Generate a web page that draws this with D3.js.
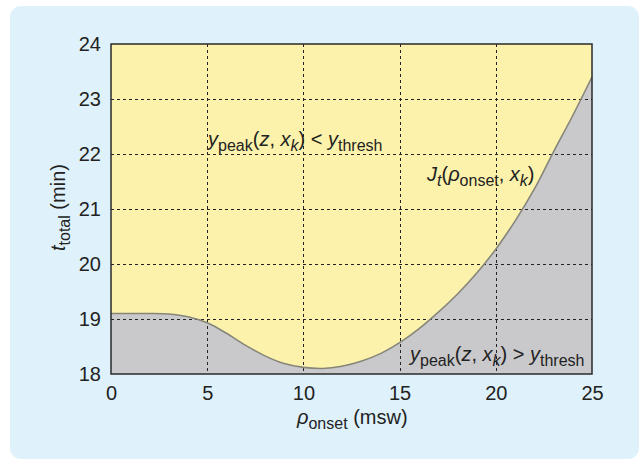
<!DOCTYPE html>
<html>
<head>
<meta charset="utf-8">
<script src="https://cdn.jsdelivr.net/npm/d3@7"></script>
<style>
  body { margin: 0; background: #fff; }
  svg text { font-family: "Liberation Sans", Arial, sans-serif; fill: #222; }
</style>
</head>
<body>
<script>
// onset depth (msw) and boundary total time (min)
var onset = [0, 1, 2, 3, 4, 5, 6, 7, 8, 9, 10, 11, 12, 13, 14, 15, 16, 17, 18, 19, 20, 21, 22, 23, 24, 25];
var ttotal = [19.10, 19.10, 19.10, 19.09, 19.04, 18.93, 18.74, 18.52, 18.33, 18.19, 18.12, 18.10, 18.14, 18.23, 18.37, 18.57, 18.82, 19.12, 19.45, 19.83, 20.27, 20.78, 21.36, 22.04, 22.70, 23.40];
var xTicks = [0, 5, 10, 15, 20, 25];
var yTicks = [18, 19, 20, 21, 22, 23, 24];

var W = 642, H = 461;
var pLeft = 111, pRight = 592, pTop = 44, pBottom = 374;

var svg = d3.select("body").append("svg")
  .attr("width", W)
  .attr("height", H);

// light blue panel
svg.append("rect")
  .attr("x", 10).attr("y", 6)
  .attr("width", 629).attr("height", 453)
  .attr("rx", 11)
  .attr("fill", "#dff2fb");

var x = d3.scaleLinear().domain([0, 25]).range([pLeft, pRight]);
var y = d3.scaleLinear().domain([18, 24]).range([pBottom, pTop]);

var data = onset.map(function(d, i) { return [d, ttotal[i]]; });

// yellow (feasible) region
svg.append("rect")
  .attr("x", pLeft).attr("y", pTop)
  .attr("width", pRight - pLeft).attr("height", pBottom - pTop)
  .attr("fill", "#fcf2ab");

// gray region under the boundary
var area = d3.area()
  .x(function(d) { return x(d[0]); })
  .y0(pBottom)
  .y1(function(d) { return y(d[1]); })
  .curve(d3.curveCatmullRom.alpha(0.5));

svg.append("path")
  .datum(data)
  .attr("d", area)
  .attr("fill", "#c9c9cb");

// grid
var grid = svg.append("g").attr("stroke", "#222").attr("stroke-width", 1).attr("stroke-dasharray", "3,3");
grid.selectAll(".gx").data(xTicks.slice(1, -1)).enter().append("line")
  .attr("x1", function(d) { return Math.round(x(d)) + 0.5; })
  .attr("x2", function(d) { return Math.round(x(d)) + 0.5; })
  .attr("y1", pTop).attr("y2", pBottom);
grid.selectAll(".gy").data(yTicks.slice(1, -1)).enter().append("line")
  .attr("y1", function(d) { return Math.round(y(d)) + 0.5; })
  .attr("y2", function(d) { return Math.round(y(d)) + 0.5; })
  .attr("x1", pLeft).attr("x2", pRight);

// boundary line
var line = d3.line()
  .x(function(d) { return x(d[0]); })
  .y(function(d) { return y(d[1]); })
  .curve(d3.curveCatmullRom.alpha(0.5));

svg.append("path")
  .datum(data)
  .attr("d", line)
  .attr("fill", "none")
  .attr("stroke", "#86867a")
  .attr("stroke-width", 1.6);

// frame
svg.append("rect")
  .attr("x", pLeft).attr("y", pTop)
  .attr("width", pRight - pLeft).attr("height", pBottom - pTop)
  .attr("fill", "none")
  .attr("stroke", "#2a2a2a")
  .attr("stroke-width", 1.5);

// tick labels
var xAxis = d3.axisBottom(x).tickValues(xTicks).tickFormat(d3.format("d")).tickSize(0).tickPadding(12);
var gx = svg.append("g").attr("transform", "translate(0," + pBottom + ")").call(xAxis);
gx.select(".domain").remove();
gx.selectAll("text").attr("font-size", 20).attr("fill", "#222").attr("font-family", "Liberation Sans, Arial, sans-serif");

var yAxis = d3.axisLeft(y).tickValues(yTicks).tickFormat(d3.format("d")).tickSize(0).tickPadding(10);
var gy = svg.append("g").attr("transform", "translate(" + pLeft + ",0)").call(yAxis);
gy.select(".domain").remove();
gy.selectAll("text").attr("font-size", 20).attr("fill", "#222").attr("font-family", "Liberation Sans, Arial, sans-serif");

// x title
var xt = svg.append("text").attr("x", 297).attr("y", 424).attr("font-size", 20);
xt.append("tspan").attr("font-style", "italic").text("ρ");
xt.append("tspan").attr("font-size", 16).attr("dy", 5).text("onset");
xt.append("tspan").attr("dy", -5).text(" (msw)");

// y title
var yt = svg.append("text")
  .attr("transform", "translate(65,251) rotate(-90)")
  .attr("font-size", 20);
yt.append("tspan").attr("font-style", "italic").text("t");
yt.append("tspan").attr("font-size", 16).attr("dy", 5).text("total");
yt.append("tspan").attr("dy", -5).text(" (min)");

// annotations
function label(px, py, op) {
  var t = svg.append("text").attr("x", px).attr("y", py).attr("font-size", 20);
  t.append("tspan").attr("font-style", "italic").text("y");
  t.append("tspan").attr("font-size", 16).attr("dy", 5).text("peak");
  t.append("tspan").attr("dy", -5).text("(");
  t.append("tspan").attr("font-style", "italic").text("z");
  t.append("tspan").text(", ");
  t.append("tspan").attr("font-style", "italic").text("x");
  t.append("tspan").attr("font-style", "italic").attr("font-size", 16).attr("dy", 5).text("k");
  t.append("tspan").attr("dy", -5).text(") " + op + " ");
  t.append("tspan").attr("font-style", "italic").text("y");
  t.append("tspan").attr("font-size", 16).attr("dy", 5).text("thresh");
  return t;
}
label(208, 146, "<");
label(410, 361, ">");

var jt = svg.append("text").attr("x", 427).attr("y", 181).attr("font-size", 20);
jt.append("tspan").attr("font-style", "italic").text("J");
jt.append("tspan").attr("font-style", "italic").attr("font-size", 16).attr("dy", 5).text("t");
jt.append("tspan").attr("dy", -5).text("(");
jt.append("tspan").attr("font-style", "italic").text("ρ");
jt.append("tspan").attr("font-size", 16).attr("dy", 5).text("onset");
jt.append("tspan").attr("dy", -5).text(", ");
jt.append("tspan").attr("font-style", "italic").text("x");
jt.append("tspan").attr("font-style", "italic").attr("font-size", 16).attr("dy", 5).text("k");
jt.append("tspan").attr("dy", -5).text(")");
</script>
</body>
</html>
